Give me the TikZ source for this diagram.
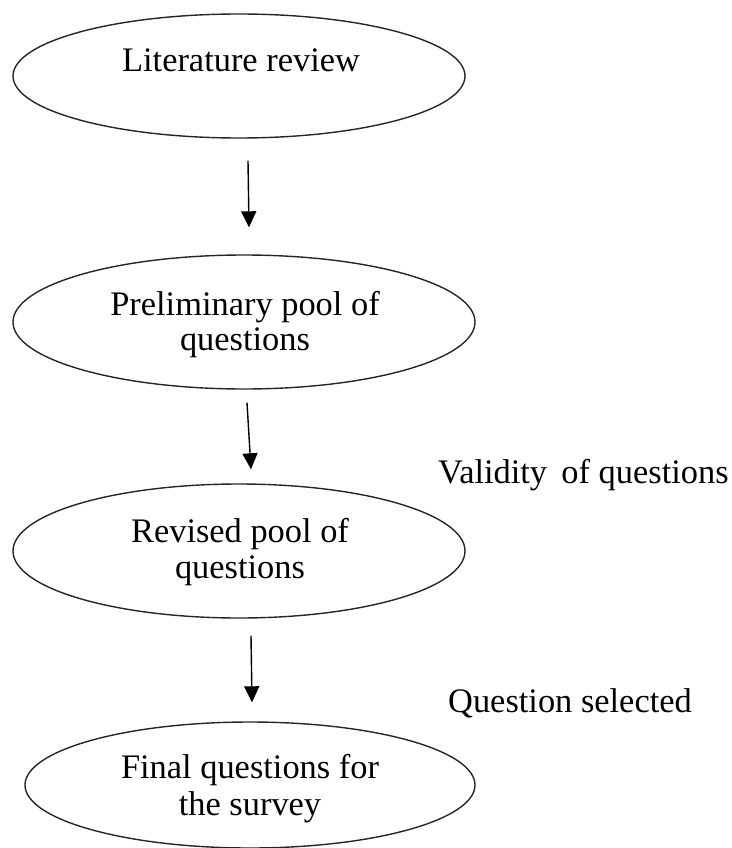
\documentclass[tikz,border=0pt]{standalone}
\usepackage{fontspec}
\setmainfont{Liberation Serif}
\usetikzlibrary{arrows.meta,shapes.geometric}
\begin{document}
\begin{tikzpicture}[x=1pt,y=-1pt,
  ell/.style={draw=black!85, line width=1.4pt, ellipse, inner sep=0pt},
  txt/.style={font=\fontsize{34.4}{40}\selectfont, anchor=base, inner sep=0pt},
  side/.style={font=\fontsize{34.4}{40}\selectfont, anchor=base west, inner sep=0pt},
  arr/.style={line width=1.4pt, -{Triangle[length=16pt,width=15pt]}}
]
\useasboundingbox (0,0) rectangle (731,848);
\node[ell, minimum width=452pt, minimum height=124pt] (e1) at (239,76) {};
\node[ell, minimum width=462pt, minimum height=134pt] (e2) at (244,322) {};
\node[ell, minimum width=452pt, minimum height=134pt] (e3) at (239,551) {};
\node[ell, minimum width=450pt, minimum height=126pt] (e4) at (250,785) {};

\node[txt] (t1) at (241,72) {Literature review};
\node[txt] (t2a) at (245,315) {Preliminary pool of};
\node[txt] (t2b) at (245,350) {questions};
\node[txt] (t3a) at (240,542) {Revised pool of};
\node[txt] (t3b) at (240,578) {questions};
\node[txt] (t4a) at (250,778) {Final questions for};
\node[txt] (t4b) at (250,815) {the survey};

\node[side] (v) at (438,483) {Validity\, of questions};
\node[side] (q) at (448,712) {Question selected};

\draw[arr] ([shift={(9,22)}]e1.south) -- ([shift={(5,-27)}]e2.north);
\draw[arr] ([shift={(3,13)}]e2.south) -- ([shift={(12,-14)}]e3.north);
\draw[arr] ([shift={(12,17)}]e3.south) -- ([shift={(2,-19)}]e4.north);
\end{tikzpicture}
\end{document}
